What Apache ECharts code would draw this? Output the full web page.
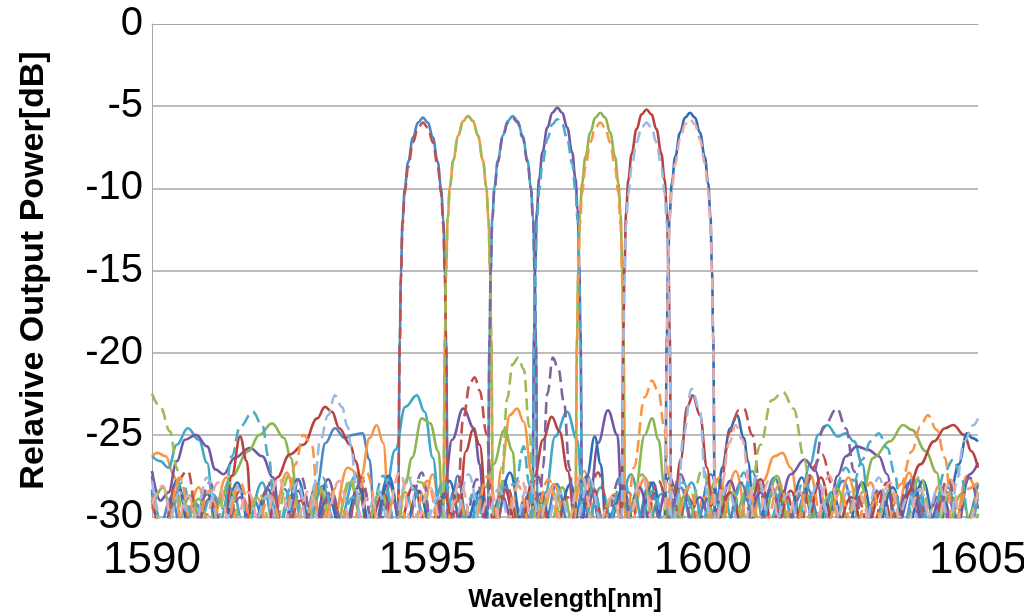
<!DOCTYPE html>
<html><head><meta charset="utf-8">
<script src="https://cdn.jsdelivr.net/npm/echarts@6/dist/echarts.min.js"></script>
<style>html,body{margin:0;padding:0;background:#fff}#c{width:1024px;height:615px}</style>
</head><body><div id="c"></div>
<script>
// axis ticks
const xTicks = [1590, 1595, 1600, 1605];
const yTicks = [-30, -25, -20, -15, -10, -5, 0];

// series: [wavelength nm, relative power dB]
const ch1Solid = [[1590,-28.5],[1590.15,-30.5],[1590.35,-28.8],[1590.55,-31],[1590.8,-29.2],[1591.0,-31],[1591.3,-28.6],[1591.55,-31],[1591.85,-29.0],[1592.1,-31],[1592.4,-28.3],[1592.7,-31],[1593.0,-28],[1593.15,-25.5],[1593.32,-24.6],[1593.5,-25.2],[1593.65,-25.0],[1593.82,-24.9],[1593.95,-26.5],[1594.05,-31],[1594.25,-28.8],
[1594.45,-31],[1594.47,-29.7],[1594.50,-19.2],[1594.52,-15.2],[1594.55,-11.9],[1594.59,-10.0],[1594.65,-8.4],[1594.74,-6.9],[1594.83,-6.0],[1594.92,-5.7],[1595.01,-6.0],[1595.10,-6.9],[1595.19,-8.4],[1595.25,-10.0],[1595.29,-11.9],[1595.32,-15.2],[1595.34,-19.2],[1595.37,-29.7],[1595.39,-31],
[1595.55,-27.5],[1595.75,-31],[1595.95,-28.4],[1596.15,-31],[1596.4,-27.8],[1596.6,-31],[1596.85,-28.6],[1597.1,-31],[1597.35,-28.0],[1597.6,-31],[1597.9,-27.5],[1598.2,-31],[1598.5,-28.7],[1598.75,-31],[1599.05,-27.9],[1599.3,-31],[1599.6,-28.2],[1599.85,-31],[1600.15,-27.4],[1600.4,-31],[1600.7,-28.0],[1601.0,-31],[1601.3,-27.6],[1601.6,-31],[1601.9,-28.3],[1602.2,-31],[1602.55,-27.8],[1602.85,-31],[1603.2,-28.5],[1603.5,-31],[1603.8,-27.7],[1604.1,-31],[1604.4,-28.4],[1604.7,-31],[1605,-28.0]];

const ch1Dashed = [[1590,-29],[1590.2,-31],[1590.45,-27.8],[1590.65,-27.2],[1590.85,-31],[1591.1,-29.3],[1591.3,-31],[1591.6,-28.4],[1591.85,-31],[1592.15,-27.9],[1592.4,-31],[1592.7,-29.0],[1592.95,-31],[1593.25,-28.6],[1593.5,-31],[1593.8,-27.6],[1594.05,-31],[1594.25,-29.2],
[1594.45,-31],[1594.47,-30],[1594.50,-19.5],[1594.52,-15.5],[1594.55,-12.2],[1594.59,-10.3],[1594.65,-8.7],[1594.74,-7.2],[1594.83,-6.3],[1594.92,-6.0],[1595.01,-6.3],[1595.10,-7.2],[1595.19,-8.7],[1595.25,-10.3],[1595.29,-12.2],[1595.32,-15.5],[1595.34,-19.5],[1595.37,-30],[1595.39,-31],
[1595.55,-29],[1595.65,-24],[1595.78,-21.8],[1595.86,-21.5],[1595.95,-22.3],[1596.08,-25],[1596.2,-31],[1596.45,-28.2],[1596.7,-31],[1597.0,-27.5],[1597.25,-31],[1597.55,-28.8],[1597.8,-31],[1598.1,-27.3],[1598.35,-31],[1598.65,-28.5],[1598.9,-31],[1599.2,-27.8],[1599.45,-31],[1599.75,-28.9],[1600.0,-31],[1600.3,-28.5],[1600.5,-24.8],[1600.65,-23.5],[1600.75,-23.4],[1600.9,-25],[1601.05,-28.5],[1601.2,-31],[1601.5,-28.4],[1601.75,-31],[1602.0,-27.0],[1602.17,-26.2],[1602.35,-28],[1602.5,-31],[1602.8,-28.7],[1603.05,-31],[1603.35,-27.9],[1603.6,-31],[1603.9,-28.8],[1604.15,-31],[1604.45,-27.7],[1604.7,-31],[1605,-28.6]];

const ch2Solid = [[1590,-26.3],[1590.1,-26.1],[1590.25,-26.3],[1590.4,-27.5],[1590.55,-31],[1590.85,-28.2],[1591.05,-31],[1591.35,-27.6],[1591.6,-31],[1591.9,-28.8],[1592.15,-31],[1592.45,-27.3],[1592.7,-31],[1593.0,-28.3],[1593.25,-31],[1593.55,-27.0],[1593.8,-27.5],[1593.95,-25.2],[1594.08,-24.4],[1594.2,-25.5],[1594.32,-31],[1594.6,-28.5],[1594.85,-31],[1595.1,-27.4],
[1595.27,-31],[1595.29,-29.6],[1595.32,-19.1],[1595.34,-15.1],[1595.37,-11.8],[1595.41,-9.9],[1595.47,-8.3],[1595.56,-6.8],[1595.65,-5.9],[1595.74,-5.6],[1595.83,-5.9],[1595.92,-6.8],[1596.01,-8.3],[1596.07,-9.9],[1596.11,-11.8],[1596.14,-15.1],[1596.16,-19.1],[1596.19,-29.6],[1596.21,-31],
[1596.35,-27],[1596.5,-23.8],[1596.63,-23.4],[1596.75,-24.2],[1596.9,-27.5],[1597.0,-31],[1597.3,-28.0],[1597.55,-31],[1597.85,-27.2],[1598.1,-31],[1598.4,-28.6],[1598.65,-31],[1598.95,-27.6],[1599.2,-31],[1599.5,-28.1],[1599.75,-31],[1600.05,-28.8],[1600.3,-31],[1600.6,-27.2],[1600.85,-31],[1601.1,-27.8],[1601.3,-26.3],[1601.45,-26.1],[1601.6,-27],[1601.8,-31],[1602.1,-28.2],[1602.35,-31],[1602.65,-27.6],[1602.9,-31],[1603.2,-28.5],[1603.45,-31],[1603.75,-27.3],[1604.0,-31],[1604.3,-28.1],[1604.55,-31],[1604.8,-27.5],[1605,-28.8]];

const ch2Dashed = [[1590,-22.5],[1590.15,-23.3],[1590.33,-24.8],[1590.45,-27],[1590.55,-31],[1590.85,-28.9],[1591.1,-31],[1591.4,-27.9],[1591.65,-31],[1591.95,-28.6],[1592.2,-31],[1592.5,-27.4],[1592.75,-31],[1593.05,-28.2],[1593.3,-31],[1593.6,-27.7],[1593.85,-31],[1594.15,-28.4],[1594.4,-31],[1594.65,-27.6],[1594.9,-27.9],[1595.1,-31],
[1595.27,-31],[1595.29,-29.6],[1595.32,-19.1],[1595.34,-15.1],[1595.37,-11.8],[1595.41,-9.9],[1595.47,-8.3],[1595.56,-6.8],[1595.65,-5.9],[1595.74,-5.6],[1595.83,-5.9],[1595.92,-6.8],[1596.01,-8.3],[1596.07,-9.9],[1596.11,-11.8],[1596.14,-15.1],[1596.16,-19.1],[1596.19,-29.6],[1596.21,-31],
[1596.35,-28],[1596.45,-22.8],[1596.55,-20.7],[1596.65,-20.3],[1596.75,-21],[1596.85,-24.5],[1596.95,-31],[1597.25,-28.3],[1597.5,-31],[1597.8,-27.6],[1598.05,-31],[1598.35,-28.9],[1598.6,-31],[1598.9,-27.4],[1599.15,-31],[1599.45,-28.2],[1599.7,-31],[1600.0,-27.1],[1600.25,-31],[1600.55,-28.5],[1600.8,-31],[1601.05,-25.6],[1601.25,-22.9],[1601.46,-22.4],[1601.65,-23.4],[1601.85,-26.5],[1602.0,-31],[1602.3,-28.7],[1602.55,-31],[1602.85,-27.8],[1603.1,-31],[1603.4,-28.3],[1603.65,-31],[1603.95,-27.5],[1604.2,-31],[1604.5,-28.5],[1604.75,-31],[1605,-27.9]];

const ch3Solid = [[1590,-26.3],[1590.15,-26.6],[1590.3,-27],[1590.45,-25.6],[1590.65,-24.6],[1590.85,-25.3],[1591.0,-26.7],[1591.15,-31],[1591.45,-28.3],[1591.7,-31],[1592.0,-27.9],[1592.25,-31],[1592.55,-28.7],[1592.8,-31],[1593.1,-28.1],[1593.35,-31],[1593.7,-27.5],[1593.95,-31],[1594.2,-29.5],[1594.42,-25.9],[1594.6,-23.3],[1594.81,-22.6],[1594.95,-23.6],[1595.1,-26.4],[1595.25,-31],[1595.5,-28.4],[1595.75,-31],[1595.95,-28.8],
[1596.08,-31],[1596.10,-29.6],[1596.13,-19.1],[1596.15,-15.1],[1596.18,-11.8],[1596.22,-9.9],[1596.28,-8.3],[1596.37,-6.8],[1596.46,-5.9],[1596.55,-5.6],[1596.64,-5.9],[1596.73,-6.8],[1596.82,-8.3],[1596.88,-9.9],[1596.92,-11.8],[1596.95,-15.1],[1596.97,-19.1],[1597.00,-29.6],[1597.02,-31],
[1597.15,-28.5],[1597.32,-25.1],[1597.54,-23.6],[1597.72,-25.3],[1597.85,-31],[1598.15,-28.2],[1598.4,-31],[1598.7,-27.4],[1598.95,-31],[1599.25,-28.6],[1599.5,-31],[1599.8,-27.9],[1600.05,-31],[1600.35,-28.3],[1600.6,-31],[1600.9,-27.2],[1601.15,-31],[1601.45,-28.4],[1601.7,-31],[1601.95,-26.8],[1602.1,-25.0],[1602.26,-24.4],[1602.45,-25.1],[1602.6,-24.9],[1602.75,-25.4],[1602.9,-26.8],[1603.05,-31],[1603.35,-28.6],[1603.6,-31],[1603.9,-27.7],[1604.15,-31],[1604.45,-28.2],[1604.7,-31],[1605,-28.9]];

const ch3Dashed = [[1590,-27.5],[1590.2,-31],[1590.5,-28.6],[1590.75,-31],[1591.05,-27.9],[1591.3,-31],[1591.6,-28.8],[1591.85,-31],[1592.15,-28.0],[1592.4,-31],[1592.7,-27.5],[1592.95,-31],[1593.25,-28.4],[1593.5,-31],[1593.8,-27.8],[1594.05,-31],[1594.35,-28.9],[1594.6,-31],[1594.9,-27.3],[1595.1,-31],[1595.4,-28.2],[1595.65,-31],[1595.9,-27.7],
[1596.08,-31],[1596.10,-29.7],[1596.13,-19.2],[1596.15,-15.2],[1596.18,-11.9],[1596.22,-10.0],[1596.28,-8.4],[1596.37,-6.9],[1596.46,-6.0],[1596.55,-5.7],[1596.64,-6.0],[1596.73,-6.9],[1596.82,-8.4],[1596.88,-10.0],[1596.92,-11.9],[1596.95,-15.2],[1596.97,-19.2],[1597.00,-29.7],[1597.02,-31],
[1597.1,-27],[1597.18,-22.5],[1597.28,-20.3],[1597.38,-21.0],[1597.48,-23],[1597.58,-27],[1597.68,-31],[1597.95,-28.3],[1598.2,-31],[1598.5,-27.6],[1598.75,-31],[1599.05,-28.7],[1599.3,-31],[1599.6,-27.4],[1599.85,-31],[1600.15,-28.5],[1600.4,-31],[1600.7,-27.9],[1600.95,-31],[1601.25,-28.2],[1601.5,-31],[1601.8,-28.6],[1602.0,-27.5],[1602.2,-24.5],[1602.44,-23.4],[1602.6,-24.6],[1602.75,-27.2],[1602.9,-31],[1603.2,-28.3],[1603.45,-31],[1603.75,-27.9],[1604.0,-31],[1604.3,-28.6],[1604.55,-31],[1604.85,-27.6],[1605,-29.5]];

const ch4Solid = [[1590,-27.2],[1590.15,-29],[1590.3,-28.5],[1590.45,-26.6],[1590.6,-25.3],[1590.8,-25.0],[1591.0,-25.7],[1591.15,-27.1],[1591.3,-27.4],[1591.5,-26.4],[1591.78,-25.8],[1592.0,-26.3],[1592.2,-27.6],[1592.35,-31],[1592.65,-28.4],[1592.9,-31],[1593.2,-27.7],[1593.45,-31],[1593.75,-28.6],[1594.0,-31],[1594.3,-27.9],[1594.55,-31],[1594.85,-28.4],[1595.1,-31],[1595.3,-28.5],[1595.45,-25.3],[1595.65,-23.4],[1595.85,-24.6],[1595.95,-26.8],[1596.05,-31],[1596.35,-28.7],[1596.6,-31],[1596.75,-29],
[1596.89,-31],[1596.91,-29.1],[1596.94,-18.6],[1596.96,-14.6],[1596.99,-11.3],[1597.03,-9.4],[1597.09,-7.8],[1597.18,-6.3],[1597.27,-5.4],[1597.36,-5.1],[1597.45,-5.4],[1597.54,-6.3],[1597.63,-7.8],[1597.69,-9.4],[1597.73,-11.3],[1597.76,-14.6],[1597.78,-18.6],[1597.81,-29.1],[1597.83,-31],
[1597.95,-29],[1598.1,-25.5],[1598.28,-23.5],[1598.45,-25.0],[1598.55,-31],[1598.85,-28.2],[1599.1,-31],[1599.4,-27.6],[1599.65,-31],[1599.95,-28.8],[1600.2,-31],[1600.5,-27.8],[1600.75,-31],[1601.05,-28.5],[1601.3,-31],[1601.6,-27.4],[1601.85,-26.5],[1602.05,-27.2],[1602.25,-31],[1602.45,-27.5],[1602.6,-26.3],[1602.8,-25.7],[1603.0,-25.9],[1603.2,-26.3],[1603.35,-27.4],[1603.5,-31],[1603.8,-28.3],[1604.05,-31],[1604.35,-28.7],[1604.6,-31],[1604.85,-27.4],[1605,-26.7]];

const ch4Dashed = [[1590,-28.3],[1590.25,-31],[1590.55,-27.9],[1590.8,-31],[1591.1,-28.6],[1591.3,-29.5],[1591.45,-26.3],[1591.6,-24.5],[1591.83,-23.6],[1592.0,-24.4],[1592.12,-26.4],[1592.25,-31],[1592.55,-28.1],[1592.8,-31],[1593.1,-27.6],[1593.35,-31],[1593.65,-28.8],[1593.9,-31],[1594.2,-27.5],[1594.45,-31],[1594.75,-28.3],[1595.0,-31],[1595.3,-27.8],[1595.55,-31],[1595.85,-28.6],[1596.1,-31],[1596.4,-28.2],[1596.6,-28],[1596.75,-25.7],[1596.85,-28],
[1596.89,-31],[1596.91,-29.8],[1596.94,-19.3],[1596.96,-15.3],[1596.99,-12.0],[1597.03,-10.1],[1597.09,-8.5],[1597.18,-7.0],[1597.27,-6.1],[1597.36,-5.8],[1597.45,-6.1],[1597.54,-7.0],[1597.63,-8.5],[1597.69,-10.1],[1597.73,-12.0],[1597.76,-15.3],[1597.78,-19.3],[1597.81,-29.8],[1597.83,-31],
[1598.0,-28.2],[1598.25,-31],[1598.55,-27.5],[1598.8,-31],[1599.1,-28.4],[1599.35,-31],[1599.65,-27.9],[1599.9,-31],[1600.2,-28.7],[1600.45,-31],[1600.75,-27.3],[1601.0,-31],[1601.3,-28.5],[1601.55,-31],[1601.85,-27.7],[1602.1,-31],[1602.4,-28.2],[1602.6,-27.0],[1602.75,-27.8],[1602.9,-26.5],[1603.05,-25.4],[1603.2,-24.9],[1603.35,-25.8],[1603.5,-27.5],[1603.6,-31],[1603.9,-28.4],[1604.15,-31],[1604.4,-27.2],[1604.55,-26.5],[1604.7,-27.6],[1604.85,-31],[1605,-28.5]];

const ch5Solid = [[1590,-29.5],[1590.2,-28.2],[1590.4,-31],[1590.7,-28.7],[1590.95,-31],[1591.2,-29.2],[1591.45,-27.5],[1591.75,-26.0],[1591.95,-25.0],[1592.18,-24.3],[1592.4,-25.2],[1592.52,-26.4],[1592.65,-29],[1592.75,-31],[1593.05,-28.3],[1593.3,-31],[1593.6,-27.9],[1593.85,-31],[1594.15,-28.5],[1594.45,-31],[1594.6,-28],[1594.72,-26.4],[1594.9,-24.0],[1595.05,-24.3],[1595.2,-26],[1595.3,-31],[1595.55,-28.7],[1595.8,-31],[1596.05,-28.2],[1596.2,-26.8],[1596.4,-24.7],[1596.55,-26],[1596.65,-31],[1596.95,-28.5],[1597.2,-31],[1597.45,-28.2],
[1597.67,-31],[1597.69,-29.4],[1597.72,-18.9],[1597.74,-14.9],[1597.77,-11.6],[1597.81,-9.7],[1597.87,-8.1],[1597.96,-6.6],[1598.05,-5.7],[1598.14,-5.4],[1598.23,-5.7],[1598.32,-6.6],[1598.41,-8.1],[1598.47,-9.7],[1598.51,-11.6],[1598.54,-14.9],[1598.56,-18.9],[1598.59,-29.4],[1598.61,-31],
[1598.75,-29],[1598.95,-25],[1599.08,-24.0],[1599.2,-25.3],[1599.3,-28],[1599.4,-31],[1599.7,-28.6],[1599.95,-31],[1600.25,-27.7],[1600.5,-31],[1600.8,-28.4],[1601.05,-31],[1601.35,-27.5],[1601.6,-31],[1601.9,-28.8],[1602.15,-31],[1602.45,-28.3],[1602.7,-31],[1602.9,-28.5],[1603.1,-26.4],[1603.4,-25.4],[1603.64,-24.4],[1603.8,-24.7],[1604.05,-26],[1604.25,-27.3],[1604.4,-31],[1604.7,-28.6],[1604.9,-31],[1605,-29.8]];

const ch5Dashed = [[1590,-28.8],[1590.25,-31],[1590.5,-27.6],[1590.75,-31],[1591.05,-28.4],[1591.3,-31],[1591.6,-27.9],[1591.85,-31],[1592.15,-28.7],[1592.4,-31],[1592.6,-26.8],[1592.75,-25.0],[1592.9,-25.6],[1593.05,-31],[1593.35,-28.2],[1593.6,-31],[1593.9,-27.3],[1594.15,-31],[1594.45,-28.6],[1594.7,-31],[1595.0,-27.8],[1595.25,-31],[1595.55,-28.9],[1595.8,-31],[1596.1,-27.5],[1596.35,-31],[1596.65,-28.1],[1596.9,-31],[1597.2,-27.7],[1597.45,-31],
[1597.67,-31],[1597.69,-30],[1597.72,-19.5],[1597.74,-15.5],[1597.77,-12.2],[1597.81,-10.3],[1597.87,-8.7],[1597.96,-7.2],[1598.05,-6.3],[1598.14,-6.0],[1598.23,-6.3],[1598.32,-7.2],[1598.41,-8.7],[1598.47,-10.3],[1598.51,-12.2],[1598.54,-15.5],[1598.56,-19.5],[1598.59,-30],[1598.61,-31],
[1598.75,-27],[1598.95,-22.7],[1599.08,-21.7],[1599.2,-22.4],[1599.3,-24.5],[1599.38,-27.5],[1599.45,-31],[1599.75,-28.2],[1600.0,-31],[1600.3,-27.6],[1600.55,-31],[1600.85,-28.7],[1601.1,-31],[1601.4,-28.0],[1601.65,-31],[1601.95,-27.4],[1602.2,-31],[1602.5,-28.5],[1602.75,-31],[1603.05,-27.9],[1603.3,-31],[1603.6,-28],[1603.8,-26.0],[1603.95,-24.5],[1604.09,-23.8],[1604.25,-24.7],[1604.4,-26.4],[1604.55,-31],[1604.8,-28.3],[1605,-27.9]];

const ch6Solid = [[1590,-29],[1590.2,-31],[1590.5,-28.4],[1590.75,-31],[1591.05,-28.9],[1591.3,-31],[1591.45,-27.5],[1591.6,-25.1],[1591.72,-26.6],[1591.82,-31],[1592.1,-31],[1592.27,-27.6],[1592.5,-26.2],[1592.75,-25.6],[1593.0,-24.0],[1593.14,-23.3],[1593.27,-23.6],[1593.4,-24.6],[1593.6,-25.6],[1593.7,-26.6],[1593.8,-27.9],[1593.9,-31],[1594.2,-28.6],[1594.45,-31],[1594.75,-28.1],[1595.0,-31],[1595.3,-28.7],[1595.55,-31],[1595.7,-26],[1595.83,-24.7],[1595.95,-25.6],[1596.1,-31],[1596.4,-28.3],[1596.65,-31],[1596.95,-27.5],[1597.1,-25.3],[1597.26,-23.9],[1597.4,-24.8],[1597.55,-27.2],[1597.7,-31],[1598.0,-28.2],[1598.25,-31],
[1598.51,-31],[1598.53,-29.2],[1598.56,-18.7],[1598.58,-14.7],[1598.61,-11.4],[1598.65,-9.5],[1598.71,-7.9],[1598.80,-6.4],[1598.89,-5.5],[1598.98,-5.2],[1599.07,-5.5],[1599.16,-6.4],[1599.25,-7.9],[1599.31,-9.5],[1599.35,-11.4],[1599.38,-14.7],[1599.40,-18.7],[1599.43,-29.2],[1599.45,-31],
[1599.6,-26.5],[1599.72,-23.3],[1599.82,-22.6],[1599.95,-23.8],[1600.08,-27],[1600.2,-31],[1600.5,-28.5],[1600.75,-31],[1601.05,-27.7],[1601.3,-31],[1601.6,-28.4],[1601.85,-31],[1602.15,-27.6],[1602.4,-31],[1602.7,-28.8],[1602.95,-31],[1603.25,-28.4],[1603.5,-31],[1603.7,-28.7],[1603.95,-26.8],[1604.2,-25.4],[1604.4,-24.6],[1604.55,-24.4],[1604.75,-25.0],[1604.88,-26.0],[1605,-27]];

const ch6Dashed = [[1590,-27.8],[1590.25,-31],[1590.5,-28.5],[1590.75,-31],[1591.0,-27.6],[1591.25,-31],[1591.55,-28.2],[1591.8,-31],[1592.1,-28.7],[1592.35,-31],[1592.65,-27.9],[1592.85,-31],[1592.95,-28],[1593.05,-25.4],[1593.2,-23.8],[1593.32,-22.6],[1593.45,-23.3],[1593.55,-24.5],[1593.62,-25.8],[1593.7,-28],[1593.8,-31],[1594.1,-28.4],[1594.35,-31],[1594.65,-27.6],[1594.9,-31],[1595.2,-28.8],[1595.45,-31],[1595.75,-27.4],[1596.0,-31],[1596.3,-28.3],[1596.55,-31],[1596.85,-27.9],[1597.1,-31],[1597.4,-28.5],[1597.65,-31],[1597.95,-27.7],[1598.2,-31],
[1598.51,-31],[1598.53,-30],[1598.56,-19.5],[1598.58,-15.5],[1598.61,-12.2],[1598.65,-10.3],[1598.71,-8.7],[1598.80,-7.2],[1598.89,-6.3],[1598.98,-6.0],[1599.07,-6.3],[1599.16,-7.2],[1599.25,-8.7],[1599.31,-10.3],[1599.35,-12.2],[1599.38,-15.5],[1599.40,-19.5],[1599.43,-30],[1599.45,-31],
[1599.55,-29],[1599.65,-25],[1599.8,-22.2],[1599.95,-23.5],[1600.05,-28],[1600.15,-31],[1600.45,-28.2],[1600.7,-31],[1601.0,-27.5],[1601.25,-31],[1601.55,-28.6],[1601.8,-31],[1602.1,-27.9],[1602.35,-31],[1602.65,-28.4],[1602.9,-31],[1603.2,-27.6],[1603.45,-31],[1603.75,-28.7],[1604.0,-31],[1604.3,-28.1],[1604.5,-31],[1604.6,-28],[1604.75,-25.4],[1604.92,-24.4],[1605,-24.0]];

const ch7Solid = [[1590,-28.4],[1590.2,-31],[1590.45,-27.8],[1590.7,-31],[1591.0,-28.6],[1591.25,-31],[1591.55,-27.9],[1591.8,-31],[1592.1,-28.3],[1592.35,-31],[1592.65,-27.7],[1592.9,-31],[1593.2,-28.8],[1593.45,-31],[1593.75,-28.2],[1594.0,-31],[1594.3,-27.5],[1594.55,-31],[1594.85,-28.5],[1595.1,-31],[1595.4,-27.8],[1595.65,-31],[1595.95,-28.4],[1596.2,-31],[1596.5,-27.3],[1596.75,-31],[1597.05,-28.6],[1597.3,-31],[1597.6,-28.0],[1597.8,-31],[1597.9,-27.5],[1598.04,-25.1],[1598.15,-26.8],[1598.25,-31],[1598.55,-28.3],[1598.8,-31],[1599.1,-27.9],
[1599.30,-31],[1599.32,-29.4],[1599.35,-18.9],[1599.37,-14.9],[1599.40,-11.6],[1599.44,-9.7],[1599.50,-8.1],[1599.59,-6.6],[1599.68,-5.7],[1599.77,-5.4],[1599.86,-5.7],[1599.95,-6.6],[1600.04,-8.1],[1600.10,-9.7],[1600.14,-11.6],[1600.17,-14.9],[1600.19,-18.9],[1600.22,-29.4],[1600.24,-31],
[1600.35,-27],[1600.5,-24.6],[1600.62,-23.8],[1600.75,-25.2],[1600.82,-26.6],[1600.95,-31],[1601.25,-28.3],[1601.5,-31],[1601.8,-27.6],[1602.05,-31],[1602.35,-28.5],[1602.6,-31],[1602.9,-27.9],[1603.15,-31],[1603.45,-28.2],[1603.7,-31],[1604.0,-27.8],[1604.25,-31],[1604.5,-28.5],[1604.65,-26.8],[1604.8,-24.9],[1604.9,-25.2],[1605,-25.4]];

const ch7Dashed = [[1590,-29.2],[1590.2,-28.1],[1590.4,-31],[1590.65,-28.7],[1590.9,-31],[1591.2,-27.9],[1591.45,-31],[1591.75,-28.5],[1592.0,-31],[1592.3,-27.6],[1592.55,-31],[1592.85,-28.4],[1593.1,-31],[1593.4,-27.8],[1593.65,-31],[1593.95,-28.7],[1594.2,-31],[1594.5,-27.3],[1594.75,-31],[1595.05,-28.2],[1595.3,-31],[1595.6,-27.9],[1595.85,-31],[1596.15,-28.6],[1596.4,-31],[1596.7,-27.7],[1596.95,-31],[1597.25,-28.3],[1597.5,-31],[1597.8,-27.4],[1598.05,-31],[1598.35,-28.8],[1598.6,-31],[1598.9,-27.6],[1599.15,-31],
[1599.30,-31],[1599.32,-29.8],[1599.35,-19.3],[1599.37,-15.3],[1599.40,-12.0],[1599.44,-10.1],[1599.50,-8.5],[1599.59,-7.0],[1599.68,-6.1],[1599.77,-5.8],[1599.86,-6.1],[1599.95,-7.0],[1600.04,-8.5],[1600.10,-10.1],[1600.14,-12.0],[1600.17,-15.3],[1600.19,-19.3],[1600.22,-29.8],[1600.24,-31],
[1600.35,-28],[1600.48,-25.5],[1600.6,-24.4],[1600.72,-25.3],[1600.85,-28],[1600.95,-31],[1601.2,-27.8],[1601.45,-31],[1601.75,-28.4],[1602.0,-31],[1602.3,-27.5],[1602.55,-31],[1602.85,-28.6],[1603.1,-31],[1603.4,-27.9],[1603.65,-31],[1603.95,-28.3],[1604.2,-31],[1604.5,-27.7],[1604.75,-31],[1605,-28.5]];

const seriesDefs = [
  ['ch1 solid', ch1Solid, '#4A86C8', false],
  ['ch2 solid', ch2Solid, '#F79646', false],
  ['ch3 solid', ch3Solid, '#3FA8C8', false],
  ['ch4 solid', ch4Solid, '#7356A8', false],
  ['ch5 solid', ch5Solid, '#8DB650', false],
  ['ch6 solid', ch6Solid, '#B8423F', false],
  ['ch7 solid', ch7Solid, '#2F6EB5', false],
  ['ch1 dashed', ch1Dashed, '#C0504D', true],
  ['ch2 dashed', ch2Dashed, '#9BBB59', true],
  ['ch3 dashed', ch3Dashed, '#8064A2', true],
  ['ch4 dashed', ch4Dashed, '#4BACC6', true],
  ['ch5 dashed', ch5Dashed, '#F79646', true],
  ['ch6 dashed', ch6Dashed, '#9DB9E2', true],
  ['ch7 dashed', ch7Dashed, '#E8A9A7', true]
];

const chart = echarts.init(document.getElementById('c'), null, {renderer: 'canvas'});
const font = '"Liberation Sans", "DejaVu Sans", sans-serif';
chart.setOption({
  animation: false,
  backgroundColor: '#fff',
  grid: {left: 152, right: 46, top: 24, bottom: 98, containLabel: false, outerBoundsMode: 'none'},
  xAxis: {
    type: 'value', min: xTicks[0], max: xTicks[xTicks.length - 1], interval: 5,
    name: 'Wavelength[nm]', nameLocation: 'middle', nameGap: 71,
    nameTextStyle: {fontFamily: font, fontWeight: 'bold', fontSize: 25, color: '#000'},
    axisLine: {lineStyle: {color: '#a6a6a6', width: 1}},
    axisTick: {show: false},
    splitLine: {show: false},
    axisLabel: {fontFamily: font, fontSize: 44, color: '#000', margin: 22, formatter: v => String(v)}
  },
  yAxis: {
    type: 'value', min: yTicks[0], max: yTicks[yTicks.length - 1], interval: 5,
    name: 'Relavive Output Power[dB]', nameLocation: 'middle', nameGap: 101,
    nameTextStyle: {fontFamily: font, fontWeight: 'bold', fontSize: 34, color: '#000'},
    axisLine: {show: true, lineStyle: {color: '#a6a6a6', width: 1}},
    axisTick: {show: false},
    splitLine: {show: true, showMaxLine: false, lineStyle: {color: '#a6a6a6', width: 1.5}},
    axisLabel: {fontFamily: font, fontSize: 40, color: '#000', margin: 9, formatter: v => String(v)}
  },
  series: seriesDefs.map(([name, data, color, dashed]) => ({
    name, type: 'line', data, smooth: 0.4, smoothMonotone: 'x', symbol: 'none', clip: true,
    lineStyle: {color, width: 2.6, type: dashed ? [12, 6] : 'solid'}
  }))
});
</script></body></html>
